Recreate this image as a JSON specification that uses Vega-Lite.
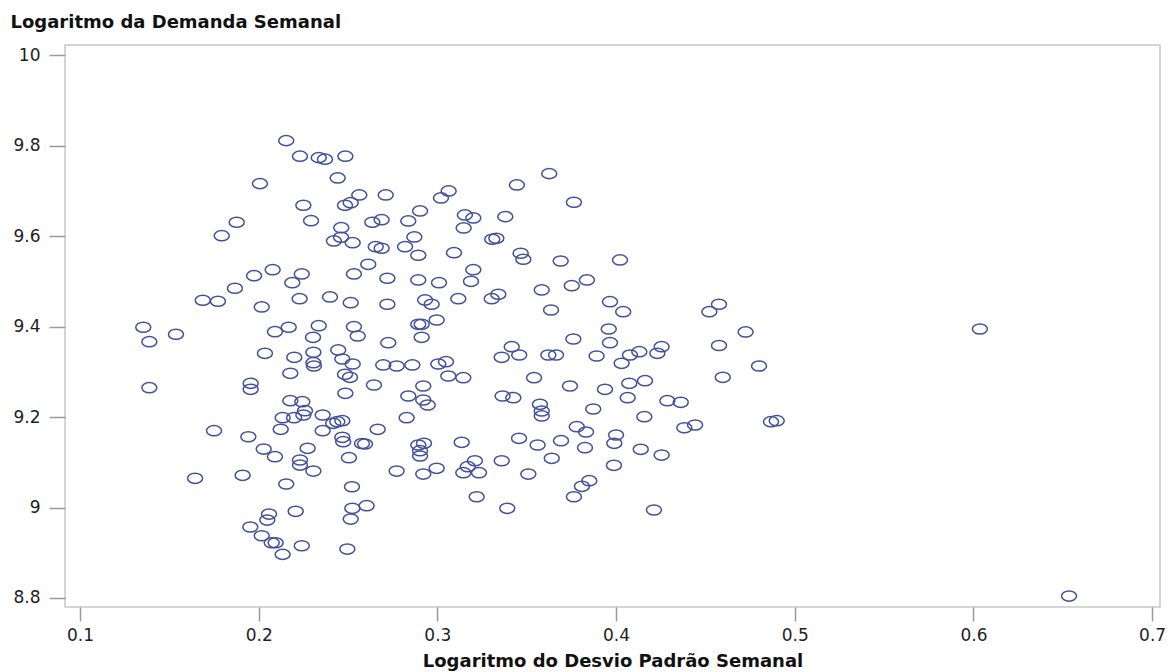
{
  "$schema": "https://vega.github.io/schema/vega-lite/v6.json",
  "width": 1095,
  "height": 562,
  "autosize": "none",
  "padding": {"left": 65, "top": 45, "right": 9, "bottom": 65},
  "background": "white",
  "config": {
    "view": {"stroke": "#c8c8c8", "strokeWidth": 1.5},
    "axis": {
      "grid": false,
      "domain": false,
      "tickColor": "#9a9a9a",
      "tickWidth": 1.5,
      "labelFont": "DejaVu Sans",
      "labelFontSize": 17,
      "labelColor": "#1e1e1e",
      "titleFont": "DejaVu Sans",
      "titleFontSize": 18,
      "titleFontWeight": "bold",
      "titleColor": "#111111"
    }
  },
  "data": {
    "values": [
      {"desvio":0.2154,"demanda":9.8115},{"desvio":0.2231,"demanda":9.7770},{"desvio":0.2336,"demanda":9.7739},{"desvio":0.2371,"demanda":9.7704},
      {"desvio":0.2485,"demanda":9.7770},{"desvio":0.2442,"demanda":9.7290},{"desvio":0.2007,"demanda":9.7164},{"desvio":0.2563,"demanda":9.6914},
      {"desvio":0.2250,"demanda":9.6686},{"desvio":0.2483,"demanda":9.6686},{"desvio":0.2515,"demanda":9.6743},{"desvio":0.1877,"demanda":9.6310},
      {"desvio":0.2293,"demanda":9.6345},{"desvio":0.1793,"demanda":9.6013},{"desvio":0.2462,"demanda":9.6190},{"desvio":0.2421,"demanda":9.5896},
      {"desvio":0.2461,"demanda":9.5978},{"desvio":0.2526,"demanda":9.5858},{"desvio":0.2078,"demanda":9.5261},{"desvio":0.1974,"demanda":9.5128},
      {"desvio":0.2241,"demanda":9.5166},{"desvio":0.2188,"demanda":9.4973},{"desvio":0.2533,"demanda":9.5166},{"desvio":0.1867,"demanda":9.4850},
      {"desvio":0.1687,"demanda":9.4584},{"desvio":0.1772,"demanda":9.4562},{"desvio":0.2229,"demanda":9.4619},{"desvio":0.2399,"demanda":9.4657},
      {"desvio":0.2515,"demanda":9.4531},{"desvio":0.2017,"demanda":9.4436},{"desvio":0.1354,"demanda":9.3987},{"desvio":0.1388,"demanda":9.3668},
      {"desvio":0.1537,"demanda":9.3832},{"desvio":0.2091,"demanda":9.3889},{"desvio":0.2168,"demanda":9.3987},{"desvio":0.2336,"demanda":9.4022},
      {"desvio":0.2304,"demanda":9.3765},{"desvio":0.2533,"demanda":9.4000},{"desvio":0.2554,"demanda":9.3794},{"desvio":0.3626,"demanda":9.7385},
      {"desvio":0.3445,"demanda":9.7135},{"desvio":0.3764,"demanda":9.6752},{"desvio":0.2711,"demanda":9.6914},{"desvio":0.3063,"demanda":9.7002},
      {"desvio":0.3020,"demanda":9.6847},{"desvio":0.2903,"demanda":9.6560},{"desvio":0.2636,"demanda":9.6310},{"desvio":0.2688,"demanda":9.6367},
      {"desvio":0.2837,"demanda":9.6338},{"desvio":0.3154,"demanda":9.6471},{"desvio":0.3201,"demanda":9.6405},{"desvio":0.3147,"demanda":9.6184},
      {"desvio":0.3380,"demanda":9.6434},{"desvio":0.2871,"demanda":9.5985},{"desvio":0.2655,"demanda":9.5770},{"desvio":0.2688,"demanda":9.5735},
      {"desvio":0.2819,"demanda":9.5770},{"desvio":0.2893,"demanda":9.5580},{"desvio":0.3093,"demanda":9.5637},{"desvio":0.3307,"demanda":9.5934},
      {"desvio":0.3330,"demanda":9.5956},{"desvio":0.3466,"demanda":9.5624},{"desvio":0.3481,"demanda":9.5491},{"desvio":0.3690,"demanda":9.5453},
      {"desvio":0.2613,"demanda":9.5380},{"desvio":0.2720,"demanda":9.5071},{"desvio":0.2893,"demanda":9.5033},{"desvio":0.3009,"demanda":9.4973},
      {"desvio":0.3201,"demanda":9.5261},{"desvio":0.3188,"demanda":9.5004},{"desvio":0.3584,"demanda":9.4812},{"desvio":0.3752,"demanda":9.4907},
      {"desvio":0.3837,"demanda":9.5033},{"desvio":0.2720,"demanda":9.4496},{"desvio":0.2931,"demanda":9.4591},{"desvio":0.2968,"demanda":9.4496},
      {"desvio":0.3117,"demanda":9.4619},{"desvio":0.3304,"demanda":9.4619},{"desvio":0.3341,"demanda":9.4717},{"desvio":0.3636,"demanda":9.4369},
      {"desvio":0.2893,"demanda":9.4053},{"desvio":0.2912,"demanda":9.4053},{"desvio":0.2996,"demanda":9.4148},{"desvio":0.2912,"demanda":9.3765},
      {"desvio":0.2725,"demanda":9.3646},{"desvio":0.3416,"demanda":9.3558},{"desvio":0.3761,"demanda":9.3728},{"desvio":0.4022,"demanda":9.5476},
      {"desvio":0.3966,"demanda":9.4553},{"desvio":0.4040,"demanda":9.4332},{"desvio":0.4522,"demanda":9.4332},{"desvio":0.4576,"demanda":9.4496},
      {"desvio":0.3959,"demanda":9.3949},{"desvio":0.3966,"demanda":9.3646},{"desvio":0.4725,"demanda":9.3883},{"desvio":0.4576,"demanda":9.3584},
      {"desvio":0.2035,"demanda":9.3411},{"desvio":0.2199,"demanda":9.3323},{"desvio":0.2306,"demanda":9.3434},{"desvio":0.2306,"demanda":9.3203},
      {"desvio":0.2309,"demanda":9.3130},{"desvio":0.2445,"demanda":9.3485},{"desvio":0.2468,"demanda":9.3285},{"desvio":0.2526,"demanda":9.3175},
      {"desvio":0.2483,"demanda":9.2947},{"desvio":0.2511,"demanda":9.2880},{"desvio":0.2177,"demanda":9.2969},{"desvio":0.1388,"demanda":9.2650},
      {"desvio":0.1955,"demanda":9.2748},{"desvio":0.1955,"demanda":9.2615},{"desvio":0.2485,"demanda":9.2527},{"desvio":0.2177,"demanda":9.2363},
      {"desvio":0.2244,"demanda":9.2341},{"desvio":0.2259,"demanda":9.2142},{"desvio":0.2250,"demanda":9.2046},{"desvio":0.2198,"demanda":9.1987},
      {"desvio":0.2134,"demanda":9.1987},{"desvio":0.2358,"demanda":9.2046},{"desvio":0.2417,"demanda":9.1863},{"desvio":0.2468,"demanda":9.1920},
      {"desvio":0.2440,"demanda":9.1898},{"desvio":0.2123,"demanda":9.1730},{"desvio":0.2358,"demanda":9.1699},{"desvio":0.1750,"demanda":9.1699},
      {"desvio":0.1942,"demanda":9.1566},{"desvio":0.2468,"demanda":9.1553},{"desvio":0.2473,"demanda":9.1456},{"desvio":0.2578,"demanda":9.1416},
      {"desvio":0.2028,"demanda":9.1294},{"desvio":0.2091,"demanda":9.1124},{"desvio":0.2274,"demanda":9.1310},{"desvio":0.2231,"demanda":9.1051},
      {"desvio":0.2231,"demanda":9.0940},{"desvio":0.2306,"demanda":9.0807},{"desvio":0.2505,"demanda":9.1102},{"desvio":0.1644,"demanda":9.0646},
      {"desvio":0.1910,"demanda":9.0712},{"desvio":0.2154,"demanda":9.0520},{"desvio":0.2522,"demanda":9.0460},{"desvio":0.2207,"demanda":8.9916},
      {"desvio":0.2058,"demanda":8.9856},{"desvio":0.2048,"demanda":8.9723},{"desvio":0.2524,"demanda":8.9982},{"desvio":0.2515,"demanda":8.9745},
      {"desvio":0.1953,"demanda":8.9569},{"desvio":0.2017,"demanda":8.9376},{"desvio":0.2073,"demanda":8.9221},{"desvio":0.2095,"demanda":8.9221},
      {"desvio":0.2134,"demanda":8.8964},{"desvio":0.2241,"demanda":8.9155},{"desvio":0.2496,"demanda":8.9082},{"desvio":0.2697,"demanda":9.3153},
      {"desvio":0.2772,"demanda":9.3130},{"desvio":0.2860,"demanda":9.3153},{"desvio":0.3005,"demanda":9.3175},{"desvio":0.3048,"demanda":9.3226},
      {"desvio":0.3061,"demanda":9.2909},{"desvio":0.3145,"demanda":9.2872},{"desvio":0.2645,"demanda":9.2710},{"desvio":0.2921,"demanda":9.2688},
      {"desvio":0.2837,"demanda":9.2467},{"desvio":0.2921,"demanda":9.2378},{"desvio":0.2946,"demanda":9.2268},{"desvio":0.2828,"demanda":9.1987},
      {"desvio":0.2666,"demanda":9.1730},{"desvio":0.2595,"demanda":9.1405},{"desvio":0.2893,"demanda":9.1383},{"desvio":0.2925,"demanda":9.1420},
      {"desvio":0.2903,"demanda":9.1257},{"desvio":0.2903,"demanda":9.1140},{"desvio":0.3136,"demanda":9.1442},{"desvio":0.2772,"demanda":9.0807},
      {"desvio":0.2921,"demanda":9.0741},{"desvio":0.2996,"demanda":9.0867},{"desvio":0.3145,"demanda":9.0770},{"desvio":0.3170,"demanda":9.0903},
      {"desvio":0.3210,"demanda":9.1035},{"desvio":0.3233,"demanda":9.0770},{"desvio":0.3360,"demanda":9.1035},{"desvio":0.3509,"demanda":9.0741},
      {"desvio":0.2604,"demanda":9.0040},{"desvio":0.3220,"demanda":9.0239},{"desvio":0.3391,"demanda":8.9982},{"desvio":0.3360,"demanda":9.3323},
      {"desvio":0.3458,"demanda":9.3374},{"desvio":0.3621,"demanda":9.3374},{"desvio":0.3664,"demanda":9.3374},{"desvio":0.3541,"demanda":9.2872},
      {"desvio":0.3742,"demanda":9.2688},{"desvio":0.3365,"demanda":9.2467},{"desvio":0.3425,"demanda":9.2429},{"desvio":0.3574,"demanda":9.2283},
      {"desvio":0.3584,"demanda":9.2135},{"desvio":0.3584,"demanda":9.2025},{"desvio":0.3780,"demanda":9.1788},{"desvio":0.3832,"demanda":9.1670},
      {"desvio":0.3872,"demanda":9.2179},{"desvio":0.3457,"demanda":9.1531},{"desvio":0.3561,"demanda":9.1383},{"desvio":0.3692,"demanda":9.1478},
      {"desvio":0.3826,"demanda":9.1323},{"desvio":0.3640,"demanda":9.1088},{"desvio":0.3850,"demanda":9.0593},{"desvio":0.3809,"demanda":9.0469},
      {"desvio":0.3764,"demanda":9.0239},{"desvio":0.3891,"demanda":9.3352},{"desvio":0.4031,"demanda":9.3190},{"desvio":0.4078,"demanda":9.3374},
      {"desvio":0.4130,"demanda":9.3447},{"desvio":0.4231,"demanda":9.3411},{"desvio":0.4255,"demanda":9.3558},{"desvio":0.4800,"demanda":9.3130},
      {"desvio":0.4597,"demanda":9.2880},{"desvio":0.3938,"demanda":9.2615},{"desvio":0.4074,"demanda":9.2748},{"desvio":0.4162,"demanda":9.2805},
      {"desvio":0.4065,"demanda":9.2429},{"desvio":0.4287,"demanda":9.2363},{"desvio":0.4362,"demanda":9.2327},{"desvio":0.4158,"demanda":9.2009},
      {"desvio":0.4382,"demanda":9.1765},{"desvio":0.4442,"demanda":9.1825},{"desvio":0.4867,"demanda":9.1898},{"desvio":0.4899,"demanda":9.1920},
      {"desvio":0.4000,"demanda":9.1604},{"desvio":0.3990,"demanda":9.1420},{"desvio":0.4138,"demanda":9.1288},{"desvio":0.4255,"demanda":9.1161},
      {"desvio":0.3988,"demanda":9.0934},{"desvio":0.4212,"demanda":8.9945},{"desvio":0.6036,"demanda":9.3949},{"desvio":0.6535,"demanda":8.8042}
    ]
  },
  "mark": {
    "type": "point",
    "filled": false,
    "shape": "M -1 0 A 1 0.68 0 1 1 1 0 A 1 0.68 0 1 1 -1 0 Z",
    "size": 225,
    "strokeWidth": 1.5,
    "color": "#42519a",
    "opacity": 1
  },
  "encoding": {
    "x": {
      "field": "desvio",
      "type": "quantitative",
      "scale": {"domain": [0.0916, 0.7044], "nice": false, "zero": false},
      "axis": {
        "title": "Logaritmo do Desvio Padrão Semanal",
        "values": [0.1, 0.2, 0.3, 0.4, 0.5, 0.6, 0.7],
        "format": "~g",
        "tickSize": 14,
        "labelPadding": 6,
        "titleY": 59,
        "titleBaseline": "alphabetic"
      }
    },
    "y": {
      "field": "demanda",
      "type": "quantitative",
      "scale": {"domain": [8.78, 10.023], "nice": false, "zero": false},
      "axis": {
        "title": "Logaritmo da Demanda Semanal",
        "values": [8.8, 9, 9.2, 9.4, 9.6, 9.8, 10],
        "format": "~g",
        "tickSize": 16,
        "labelPadding": 9,
        "titleAngle": 0,
        "titleAlign": "left",
        "titleBaseline": "alphabetic",
        "titleX": -55,
        "titleY": -18
      }
    }
  }
}
